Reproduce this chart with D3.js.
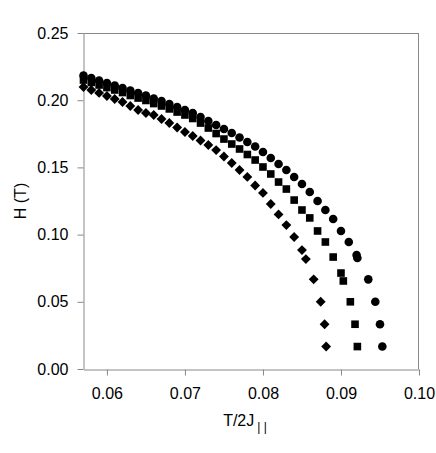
<!DOCTYPE html>
<html>
<head>
<meta charset="utf-8">
<script src="https://cdn.jsdelivr.net/npm/d3@7"></script>
<style>
  body { margin: 0; background: #fff; }
  text { font-family: "Liberation Sans", Arial, sans-serif; }
</style>
</head>
<body>
<div id="chart"></div>
<script>
// данные: T/2J|| и H (T)
const circleT = [0.057, 0.058, 0.059, 0.060, 0.061, 0.062, 0.063, 0.064, 0.065, 0.066,
    0.067, 0.068, 0.069, 0.070, 0.071, 0.072, 0.073, 0.074, 0.075, 0.076,
    0.077, 0.078, 0.079, 0.080, 0.081, 0.082, 0.083, 0.084, 0.085, 0.086,
    0.087, 0.088, 0.089, 0.090, 0.091, 0.0920, 0.0921, 0.0935, 0.0944, 0.0950, 0.0953];
const circleH = [0.2184, 0.2165, 0.2147, 0.2128, 0.2109, 0.2091, 0.2072, 0.2054, 0.2035, 0.2013,
    0.1994, 0.1972, 0.1949, 0.1927, 0.1905, 0.1875, 0.1845, 0.1815, 0.1786, 0.1756,
    0.1722, 0.1689, 0.1656, 0.1615, 0.1570, 0.1525, 0.1481, 0.1429, 0.1376, 0.1317,
    0.1250, 0.1183, 0.1116, 0.1027, 0.0945, 0.0848, 0.0826, 0.0667, 0.0500, 0.0333, 0.0167];

const squareT = [0.057, 0.058, 0.059, 0.060, 0.061, 0.062, 0.063, 0.064, 0.065, 0.066,
    0.067, 0.068, 0.069, 0.070, 0.071, 0.072, 0.073, 0.074, 0.075, 0.076,
    0.077, 0.078, 0.079, 0.080, 0.081, 0.082, 0.083, 0.084, 0.085, 0.086,
    0.087, 0.088, 0.089, 0.0900, 0.0903, 0.0912, 0.0918, 0.0921];
const squareH = [0.2150, 0.2132, 0.2113, 0.2094, 0.2076, 0.2057, 0.2035, 0.2016, 0.1998, 0.1975,
    0.1957, 0.1935, 0.1912, 0.1890, 0.1864, 0.1830, 0.1793, 0.1752, 0.1711, 0.1674,
    0.1637, 0.1596, 0.1555, 0.1503, 0.1451, 0.1391, 0.1339, 0.1257, 0.1183, 0.1124,
    0.1027, 0.0945, 0.0833, 0.0714, 0.0655, 0.0500, 0.0333, 0.0167];

const diamondT = [0.057, 0.058, 0.059, 0.060, 0.061, 0.062, 0.063, 0.064, 0.065, 0.066,
    0.067, 0.068, 0.069, 0.070, 0.071, 0.072, 0.073, 0.074, 0.075, 0.076,
    0.077, 0.078, 0.079, 0.080, 0.081, 0.082, 0.083, 0.084, 0.0850, 0.0855,
    0.0865, 0.0874, 0.0879, 0.0881];
const diamondH = [0.2098, 0.2076, 0.2054, 0.2031, 0.2009, 0.1987, 0.1957, 0.1927, 0.1905, 0.1890,
    0.1860, 0.1830, 0.1797, 0.1763, 0.1734, 0.1700, 0.1667, 0.1629, 0.1581, 0.1533,
    0.1481, 0.1429, 0.1365, 0.1310, 0.1228, 0.1150, 0.1071, 0.0982, 0.0885, 0.0818,
    0.0667, 0.0500, 0.0333, 0.0167];

const xTicks = [0.06, 0.07, 0.08, 0.09, 0.10];
const yTicks = [0.00, 0.05, 0.10, 0.15, 0.20, 0.25];

const width = 436;
const height = 453;
const margin = { top: 33, right: 17, bottom: 84, left: 83.5 };
const axisColor = '#888';

const svg = d3.select('#chart')
    .append('svg')
    .attr('width', width)
    .attr('height', height);

const x = d3.scaleLinear()
    .domain([0.057, 0.10])
    .range([margin.left, width - margin.right]);

const y = d3.scaleLinear()
    .domain([0, 0.25])
    .range([height - margin.bottom, margin.top]);

// рамка: верх и правая сторона
svg.append('line')
    .attr('x1', x(0.057)).attr('x2', x(0.10))
    .attr('y1', y(0.25) + 0.5).attr('y2', y(0.25) + 0.5)
    .attr('stroke', axisColor);
svg.append('line')
    .attr('x1', x(0.10) - 0.5).attr('x2', x(0.10) - 0.5)
    .attr('y1', y(0.25)).attr('y2', y(0))
    .attr('stroke', axisColor);

// оси
const xAxis = svg.append('g')
    .attr('transform', `translate(0,${y(0) + 0.5})`)
    .call(d3.axisBottom(x).tickValues(xTicks).tickFormat(d3.format('.2f')).tickSize(6).tickSizeOuter(0).tickPadding(12));

const yAxis = svg.append('g')
    .attr('transform', `translate(${x(0.057)},0)`)
    .call(d3.axisLeft(y).tickValues(yTicks).tickFormat(d3.format('.2f')).tickSize(6).tickSizeOuter(0).tickPadding(9));

[xAxis, yAxis].forEach(g => {
    g.select('.domain').attr('stroke', axisColor);
    g.selectAll('.tick line').attr('stroke', axisColor);
    g.selectAll('.tick text')
        .attr('fill', '#000')
        .style('font-size', '16px')
        .style('font-family', '"Liberation Sans", Arial, sans-serif');
});

// подписи осей
const xLabel = svg.append('text')
    .attr('x', 245)
    .attr('y', 426)
    .attr('text-anchor', 'middle')
    .attr('fill', '#000')
    .attr('opacity', 0.999)
    .style('font-size', '16px');
xLabel.append('tspan').text('T/2J');
xLabel.append('tspan')
    .attr('dy', 5)
    .attr('dx', 3)
    .style('font-size', '12px')
    .text('| |');

svg.append('text')
    .attr('transform', `translate(26,${(y(0) + y(0.25)) / 2}) rotate(-90)`)
    .attr('text-anchor', 'middle')
    .attr('fill', '#000')
    .style('font-size', '16px')
    .text('H (T)');

// точки
const plot = svg.append('g');

plot.selectAll('.circ')
    .data(d3.zip(circleT, circleH))
    .enter().append('circle')
    .attr('class', 'circ')
    .attr('cx', d => x(d[0]))
    .attr('cy', d => y(d[1]))
    .attr('r', 4.3)
    .attr('fill', '#000');

plot.selectAll('.sq')
    .data(d3.zip(squareT, squareH))
    .enter().append('rect')
    .attr('class', 'sq')
    .attr('x', d => x(d[0]) - 3.8)
    .attr('y', d => y(d[1]) - 3.8)
    .attr('width', 7.6)
    .attr('height', 7.6)
    .attr('fill', '#000');

const diamond = d3.symbol().type(d3.symbolDiamond2).size(62);
plot.selectAll('.dia')
    .data(d3.zip(diamondT, diamondH))
    .enter().append('path')
    .attr('class', 'dia')
    .attr('d', diamond)
    .attr('transform', d => `translate(${x(d[0])},${y(d[1])})`)
    .attr('fill', '#000');
</script>
</body>
</html>
